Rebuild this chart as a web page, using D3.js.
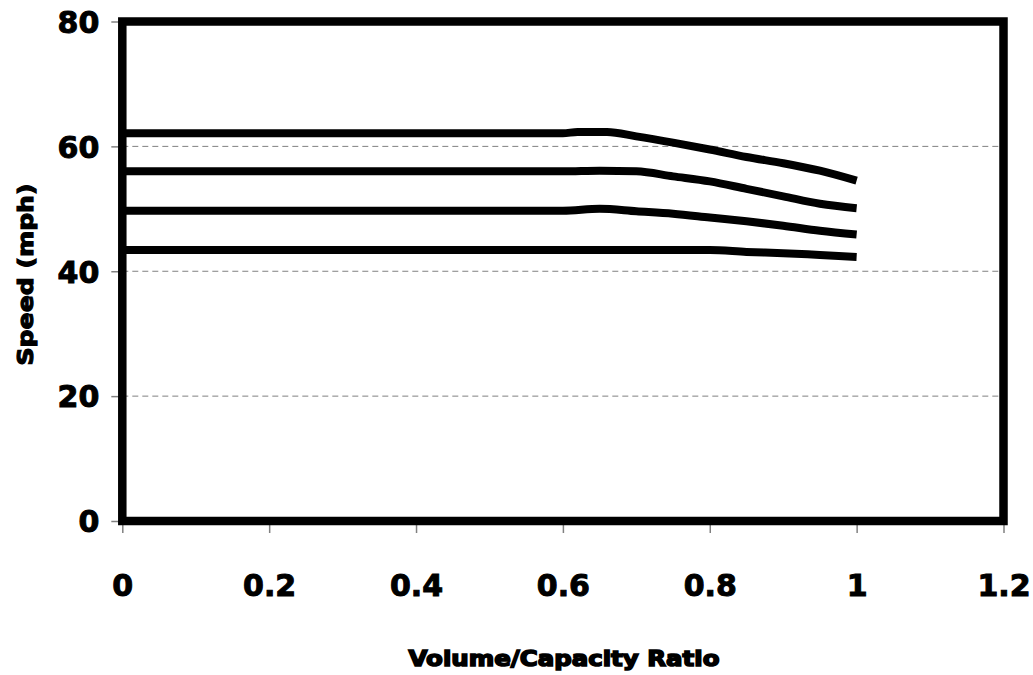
<!DOCTYPE html>
<html><head><meta charset="utf-8">
<script src="https://cdn.jsdelivr.net/npm/d3@7"></script>
<style>body{margin:0;background:#fff}svg{display:block}</style>
</head><body>
<svg id="c" width="1033" height="675"></svg>
<script>
const xTicks = [0, 0.2, 0.4, 0.6, 0.8, 1, 1.2];
const xTickLabels = ["0", "0.2", "0.4", "0.6", "0.8", "1", "1.2"];
const yTicks = [0, 20, 40, 60, 80];
const xTitle = "Volume/Capacity Ratio";
const yTitle = "Speed (mph)";

const vc1 = [0, 0.6, 0.62, 0.66, 0.7, 0.75, 0.8, 0.85, 0.9, 0.95, 1.0];
const speed1 = [62.1, 62.1, 62.3, 62.3, 61.6, 60.6, 59.5, 58.3, 57.3, 56.1, 54.5];
const vc2 = [0, 0.6, 0.65, 0.7, 0.75, 0.8, 0.85, 0.9, 0.95, 1.0];
const speed2 = [56.0, 56.0, 56.1, 56.0, 55.2, 54.4, 53.2, 52.0, 50.8, 50.1];
const vc3 = [0, 0.6, 0.65, 0.7, 0.75, 0.8, 0.85, 0.9, 0.95, 1.0];
const speed3 = [49.7, 49.7, 50.0, 49.6, 49.2, 48.6, 48.0, 47.3, 46.5, 45.9];
const vc4 = [0, 0.8, 0.85, 0.9, 0.95, 1.0];
const speed4 = [43.4, 43.4, 43.1, 42.9, 42.6, 42.3];

const series = [[vc1, speed1], [vc2, speed2], [vc3, speed3], [vc4, speed4]];

const svg = d3.select("#c");
const x = d3.scaleLinear().domain([0, 1.2]).range([122.3, 1003.5]);
const y = d3.scaleLinear().domain([0, 80]).range([521, 21.5]);
const font = "'DejaVu Sans', 'Liberation Sans', Arial, sans-serif";

// gridlines
svg.append("g").selectAll("line").data([20, 40, 60]).join("line")
  .attr("x1", x(0)).attr("x2", x(1.2))
  .attr("y1", d => y(d)).attr("y2", d => y(d))
  .attr("stroke", "#808080").attr("stroke-width", 1).attr("stroke-dasharray", "6,4");

// y axis ticks
const ya = svg.append("g").attr("transform", `translate(${x(0)},0)`)
  .call(d3.axisLeft(y).tickValues(yTicks).tickSize(11).tickPadding(14).tickFormat(d3.format("d")));
ya.select(".domain").remove();
ya.selectAll(".tick line").attr("stroke", "#808080").attr("stroke-width", 1.5);
ya.selectAll(".tick text").attr("font-family", font).attr("font-weight", "bold")
  .attr("font-size", 30).attr("fill", "#000").attr("stroke", "#000").attr("stroke-width", 1)
  .attr("dy", "0.36em").attr("x", -23);

// x axis ticks
const xa = svg.append("g").attr("transform", `translate(0,${y(0)})`)
  .call(d3.axisBottom(x).tickValues(xTicks).tickSize(12).tickPadding(40).tickFormat((d, i) => xTickLabels[i]));
xa.select(".domain").remove();
xa.selectAll(".tick line").attr("stroke", "#808080").attr("stroke-width", 1.5);
xa.selectAll(".tick text").attr("font-family", font).attr("font-weight", "bold")
  .attr("font-size", 30).attr("fill", "#000").attr("stroke", "#000").attr("stroke-width", 1)
  .attr("dy", "0.36em").attr("y", 64);

// frame
svg.append("rect")
  .attr("x", x(0)).attr("y", y(80))
  .attr("width", x(1.2) - x(0)).attr("height", y(0) - y(80))
  .attr("fill", "none").attr("stroke", "#000").attr("stroke-width", 8.5);

// lines
const line = d3.line().x(d => x(d[0])).y(d => y(d[1])).curve(d3.curveMonotoneX);
svg.append("g").selectAll("path").data(series).join("path")
  .attr("d", s => line(s[0].map((v, i) => [v, s[1][i]])))
  .attr("fill", "none").attr("stroke", "#000").attr("stroke-width", 8)
  .attr("stroke-linejoin", "round").attr("stroke-linecap", "butt");

// titles
svg.append("text").attr("x", 564).attr("y", 666)
  .attr("text-anchor", "middle").attr("font-family", font).attr("font-weight", "bold")
  .attr("font-size", 22).attr("stroke", "#000").attr("stroke-width", 1.6)
  .attr("textLength", 311).attr("lengthAdjust", "spacingAndGlyphs")
  .text(xTitle);

svg.append("text").attr("transform", "translate(33,274.5) rotate(-90)")
  .attr("text-anchor", "middle").attr("font-family", font).attr("font-weight", "bold")
  .attr("font-size", 22).attr("stroke", "#000").attr("stroke-width", 1.2)
  .attr("textLength", 182).attr("lengthAdjust", "spacingAndGlyphs")
  .text(yTitle);
</script>
</body></html>
